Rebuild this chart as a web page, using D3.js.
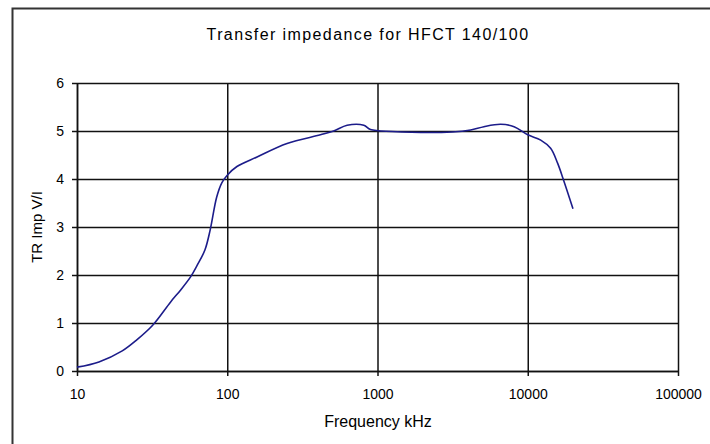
<!DOCTYPE html>
<html>
<head>
<meta charset="utf-8">
<script src="https://cdn.jsdelivr.net/npm/d3@7"></script>
<style>
  body { margin: 0; background: #fff; }
  svg { display: block; font-family: Arial, "Liberation Sans", sans-serif; }
  .grid line { stroke: #111; stroke-width: 1.5; }
  .grid .domain { display: none; }
  .axis line, .axis path { stroke: #111; stroke-width: 1.5; }
  .axis text { font-size: 14px; fill: #000; }
  .line { fill: none; stroke: #1c1c8a; stroke-width: 1.6; }
</style>
</head>
<body>
<div id="chart"></div>
<script>
const title = 'Transfer impedance for HFCT 140/100'
const xTitle = 'Frequency kHz'
const yTitle = 'TR Imp V/I'

// frequency in kHz, transfer impedance in V/I
const freqs = [10, 14, 20, 25, 32, 42, 49, 57, 63, 71, 77, 85, 92, 100, 116, 158, 250, 417, 511, 628, 811, 898, 1250, 3150, 4170, 5110, 6610, 8110, 10000, 12200, 14200, 15800, 17300, 20000]
const values = [0.08, 0.19, 0.42, 0.65, 0.96, 1.44, 1.69, 1.96, 2.20, 2.52, 2.94, 3.62, 3.92, 4.08, 4.26, 4.46, 4.74, 4.92, 5.0, 5.12, 5.12, 5.03, 4.99, 4.98, 5.02, 5.09, 5.14, 5.09, 4.92, 4.81, 4.64, 4.33, 3.98, 3.38]

const xTicks = [10, 100, 1000, 10000, 100000]
const yTicks = [0, 1, 2, 3, 4, 5, 6]

const width = 710
const height = 444
const margin = { top: 83, right: 32, bottom: 73, left: 77 }
const plotW = width - margin.left - margin.right
const plotH = height - margin.top - margin.bottom

const data = freqs.map((f, i) => [f, values[i]])

const x = d3.scaleLog()
  .domain([10, 100000])
  .range([0, plotW])

const y = d3.scaleLinear()
  .domain([0, 6])
  .range([plotH, 0])

const svg = d3.select('#chart')
  .append('svg')
  .attr('width', width)
  .attr('height', height)

// chart area border (runs off the right and bottom edges)
svg.append('rect')
  .attr('x', 12.5)
  .attr('y', 8.5)
  .attr('width', width + 20)
  .attr('height', height + 20)
  .attr('fill', '#fff')
  .attr('stroke', '#333')
  .attr('stroke-width', 2)

svg.append('text')
  .attr('x', 368)
  .attr('y', 40)
  .attr('text-anchor', 'middle')
  .style('font-size', '16px')
  .style('letter-spacing', '1.4px')
  .text(title)

const g = svg.append('g')
  .attr('transform', `translate(${margin.left}, ${margin.top})`)

// gridlines
g.append('g')
  .attr('class', 'grid')
  .call(d3.axisLeft(y).tickValues(yTicks).tickSize(-plotW).tickFormat(''))

g.append('g')
  .attr('class', 'grid')
  .attr('transform', `translate(0, ${plotH})`)
  .call(d3.axisBottom(x).tickValues(xTicks).tickSize(-plotH).tickFormat(''))

// axes with short outer ticks and labels
g.append('g')
  .attr('class', 'axis')
  .call(d3.axisLeft(y).tickValues(yTicks).tickSizeInner(5).tickSizeOuter(0).tickPadding(8).tickFormat(d3.format('d')))

g.append('g')
  .attr('class', 'axis')
  .attr('transform', `translate(0, ${plotH})`)
  .call(d3.axisBottom(x).tickValues(xTicks).tickSizeInner(5).tickSizeOuter(0).tickPadding(13).tickFormat(d3.format('d')))

const line = d3.line()
  .x(d => x(d[0]))
  .y(d => y(d[1]))
  .curve(d3.curveCatmullRom.alpha(0.5))

g.append('path')
  .datum(data)
  .attr('class', 'line')
  .attr('d', line)

svg.append('text')
  .attr('x', 378)
  .attr('y', 427)
  .attr('text-anchor', 'middle')
  .style('font-size', '16px')
  .text(xTitle)

svg.append('text')
  .attr('transform', `translate(42, ${margin.top + plotH / 2}) rotate(-90)`)
  .attr('text-anchor', 'middle')
  .style('font-size', '15px')
  .text(yTitle)
</script>
</body>
</html>
